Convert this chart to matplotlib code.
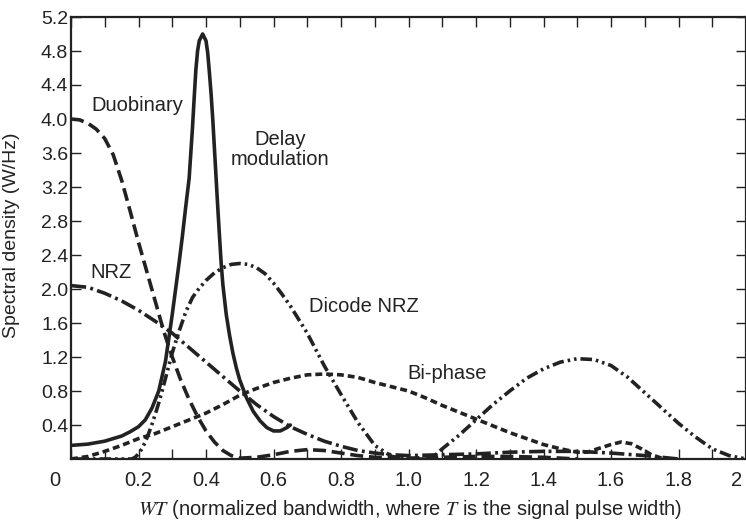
import matplotlib

matplotlib.use("Agg")
import matplotlib.pyplot as plt
import matplotlib.transforms as mtransforms

# --- values ---------------------------------------------------------------
duobinary_x = [0.0, 0.025, 0.05, 0.075, 0.1, 0.125, 0.15, 0.175, 0.2, 0.225,
               0.25, 0.275, 0.3, 0.325, 0.35, 0.375, 0.4, 0.425, 0.45, 0.475,
               0.5, 0.55, 0.6, 0.65, 0.7, 0.75, 0.8, 0.85, 0.9, 1.0,
               1.1, 1.2, 1.3, 1.4, 1.5]
duobinary_y = [4.0, 3.99, 3.95, 3.88, 3.77, 3.58, 3.28, 2.92, 2.55, 2.2,
               1.85, 1.5, 1.2, 0.93, 0.7, 0.5, 0.33, 0.2, 0.1, 0.04,
               0.01, 0.02, 0.05, 0.09, 0.11, 0.1, 0.07, 0.04, 0.02, 0.01,
               0.02, 0.03, 0.03, 0.02, 0.0]

nrz_x = [0.0, 0.05, 0.1, 0.15, 0.2, 0.25, 0.3, 0.35, 0.4, 0.45, 0.5, 0.55,
         0.6, 0.65, 0.7, 0.75, 0.8, 0.85, 0.9, 0.95, 1.0, 1.1, 1.2, 1.3,
         1.4, 1.5, 1.6, 1.7, 1.8]
nrz_y = [2.04, 2.02, 1.95, 1.86, 1.75, 1.62, 1.48, 1.31, 1.14, 0.97, 0.8, 0.64,
         0.5, 0.38, 0.29, 0.21, 0.15, 0.1, 0.07, 0.05, 0.04, 0.05, 0.06, 0.08,
         0.09, 0.09, 0.07, 0.04, 0.0]

delay_x = [0.0, 0.05, 0.1, 0.15, 0.175, 0.2, 0.22, 0.24, 0.26, 0.28, 0.3, 0.31,
           0.32, 0.33, 0.34, 0.35, 0.355, 0.36, 0.365, 0.37, 0.375, 0.38, 0.39,
           0.4, 0.405, 0.41, 0.415, 0.42, 0.425, 0.43, 0.435, 0.44, 0.445,
           0.45, 0.46, 0.47, 0.48, 0.49, 0.5, 0.52, 0.54, 0.56, 0.58, 0.6,
           0.62, 0.64, 0.65]
delay_y = [0.16, 0.175, 0.21, 0.27, 0.32, 0.38, 0.46, 0.6, 0.8, 1.15, 1.7, 2.0,
           2.3, 2.62, 2.97, 3.3, 3.6, 3.9, 4.25, 4.58, 4.8, 4.92, 5.0,
           4.92, 4.78, 4.55, 4.3, 4.0, 3.65, 3.3, 2.95, 2.62, 2.3,
           2.05, 1.7, 1.45, 1.24, 1.07, 0.93, 0.72, 0.56, 0.45, 0.37, 0.33,
           0.33, 0.37, 0.4]

dicode_x = [0.0, 0.1, 0.18, 0.19, 0.2, 0.21, 0.22, 0.23, 0.24, 0.25, 0.26, 0.27,
            0.28, 0.29, 0.3, 0.32, 0.34, 0.36, 0.38, 0.4, 0.425, 0.45, 0.475,
            0.5, 0.525, 0.55, 0.575, 0.6, 0.625, 0.65, 0.675, 0.7, 0.75, 0.8,
            0.85, 0.9, 0.95, 1.0, 1.05, 1.075, 1.1, 1.15, 1.2, 1.25, 1.3, 1.35,
            1.4, 1.45, 1.5, 1.55, 1.6, 1.65, 1.7, 1.75, 1.8, 1.85, 1.9, 1.95,
            2.0]
dicode_y = [0.0, 0.0, 0.0, 0.02, 0.06, 0.12, 0.2, 0.3, 0.41, 0.53, 0.66, 0.8,
            0.95, 1.1, 1.25, 1.5, 1.73, 1.9, 2.01, 2.1, 2.19, 2.25, 2.29,
            2.3, 2.29, 2.25, 2.18, 2.07, 1.94, 1.8, 1.64, 1.48, 1.1, 0.76,
            0.43, 0.16, 0.03, 0.0, 0.0, 0.03, 0.12, 0.28, 0.46, 0.64, 0.8, 0.95,
            1.06, 1.14, 1.18, 1.17, 1.1, 0.96, 0.78, 0.6, 0.42, 0.26, 0.12, 0.04,
            0.0]

biphase_x = [0.0, 0.05, 0.1, 0.15, 0.2, 0.25, 0.3, 0.35, 0.4, 0.45, 0.5, 0.55,
             0.6, 0.65, 0.7, 0.75, 0.8, 0.85, 0.9, 0.95, 1.0, 1.05, 1.1, 1.15,
             1.2, 1.25, 1.3, 1.35, 1.4, 1.45, 1.5, 1.53, 1.56, 1.6, 1.63, 1.66,
             1.69, 1.72, 1.75]
biphase_y = [0.0, 0.03, 0.09, 0.16, 0.24, 0.3, 0.38, 0.46, 0.54, 0.64, 0.75, 0.83,
             0.9, 0.95, 0.99, 1.0, 0.99, 0.96, 0.9, 0.85, 0.8, 0.72, 0.63, 0.55,
             0.47, 0.39, 0.31, 0.24, 0.17, 0.12, 0.08, 0.08, 0.12, 0.17, 0.2, 0.18,
             0.12, 0.05, 0.01]

x_ticks = [0.0, 0.2, 0.4, 0.6, 0.8, 1.0, 1.2, 1.4, 1.6, 1.8, 2.0]
x_tick_labels = ["0", "0.2", "0.4", "0.6", "0.8", "1.0", "1.2", "1.4", "1.6", "1.8", "2"]
y_ticks = [0.4, 0.8, 1.2, 1.6, 2.0, 2.4, 2.8, 3.2, 3.6, 4.0, 4.4, 4.8, 5.2]

INK = "#222222"
SANS = ["Liberation Sans", "DejaVu Sans"]

plt.rcParams["font.family"] = SANS
plt.rcParams["mathtext.fontset"] = "stix"

fig = plt.figure(figsize=(7.46, 5.22), dpi=100)
ax = fig.add_axes([71 / 746, 63 / 522, 675 / 746, 442 / 522])

lw = 2.6
ax.plot(duobinary_x, duobinary_y, color=INK, lw=lw, dashes=(3.6, 1.6))
ax.plot(nrz_x, nrz_y, color=INK, lw=lw, dashes=(4.2, 1.2, 0.8, 1.2))
ax.plot(delay_x, delay_y, color=INK, lw=lw, solid_capstyle="round",
        solid_joinstyle="round")
ax.plot(dicode_x, dicode_y, color=INK, lw=lw, dashes=(3.2, 1.1, 0.7, 1.1, 0.7, 1.1))
ax.plot(biphase_x, biphase_y, color=INK, lw=lw, dashes=(1.9, 1.1))

ax.set_xlim(0, 2.0)
ax.set_ylim(0, 5.2)
ax.set_xticks(x_ticks)
ax.set_xticklabels(x_tick_labels, fontsize=14.5)
ax.set_xticks([i / 10 for i in range(1, 20, 2)], minor=True)
ax.set_yticks(y_ticks)
ax.set_yticklabels([f"{v:.1f}" for v in y_ticks], fontsize=14)

ax.tick_params(axis="x", which="both", direction="in", top=True, bottom=True,
               length=7, width=1.0, color=INK, pad=9, labelcolor=INK)
ax.tick_params(axis="y", which="both", direction="in", left=True, right=True,
               length=7, width=1.0, color=INK, pad=2, labelcolor=INK)
for spine in ax.spines.values():
    spine.set_linewidth(1.6)
    spine.set_color(INK)

# the origin label sits left of the corner, the "2" is pulled in from the edge
labels = ax.get_xticklabels()
for label, shift_px in ((labels[0], -16), (labels[-1], -9)):
    label.set_transform(label.get_transform()
                        + mtransforms.ScaledTranslation(shift_px / 100, 0, fig.dpi_scale_trans))

ax.set_xlabel(r"$WT$ (normalized bandwidth, where $T$ is the signal pulse width)",
              fontsize=14.5, color=INK)
ax.xaxis.set_label_coords(0.502, -0.088)
ax.set_ylabel("Spectral density (W/Hz)", fontsize=14, color=INK)
ax.yaxis.set_label_coords(-0.0756, 0.507)

label_kw = dict(fontsize=14.5, color=INK, ha="center", va="center")
ax.text(0.196, 4.16, "Duobinary", **label_kw)
ax.text(0.619, 3.64, "Delay\nmodulation", linespacing=1.05, **label_kw)
ax.text(0.119, 2.2, "NRZ", **label_kw)
ax.text(0.868, 1.8, "Dicode NRZ", **label_kw)
ax.text(1.114, 1.01, "Bi-phase", **label_kw)

fig.savefig("out.png", dpi=100)
